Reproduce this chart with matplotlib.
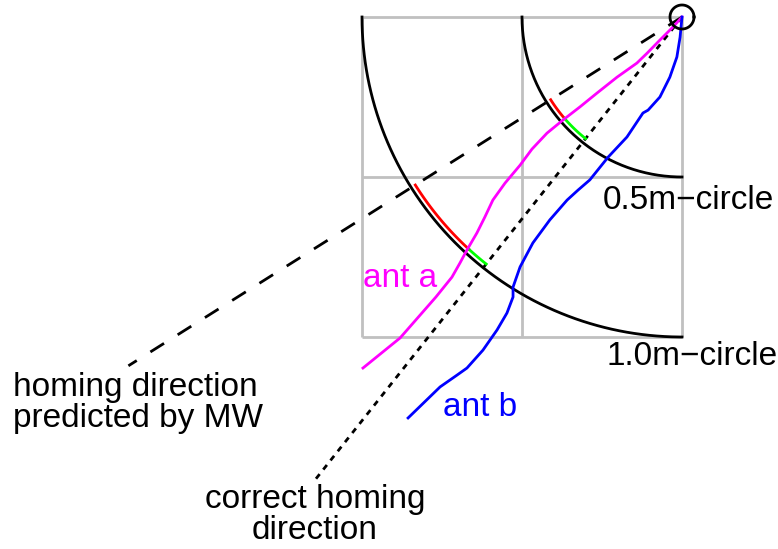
import matplotlib.pyplot as plt
import numpy as np

plt.rcParams['font.family'] = ['Liberation Sans', 'DejaVu Sans']

# positions in metres, nest at (0, 0)
ant_a_x = [-0.997, -0.881, -0.769, -0.719, -0.694, -0.672, -0.641, -0.616, -0.591, -0.553, -0.506,
           -0.469, -0.422, -0.372, -0.319, -0.266, -0.203, -0.141, -0.109, -0.069, -0.028, 0.0]
ant_a_y = [-1.097, -1.003, -0.875, -0.813, -0.769, -0.728, -0.675, -0.625, -0.572, -0.519, -0.463,
           -0.413, -0.363, -0.322, -0.281, -0.238, -0.188, -0.144, -0.113, -0.072, -0.031, 0.0]

ant_b_x = [-0.856, -0.756, -0.703, -0.672, -0.622, -0.578, -0.547, -0.528, -0.528, -0.506, -0.466, -0.413,
           -0.359, -0.325, -0.288, -0.231, -0.172, -0.122, -0.106, -0.069, -0.038, -0.016, -0.006, 0.0]
ant_b_y = [-1.253, -1.156, -1.119, -1.097, -1.041, -0.978, -0.925, -0.875, -0.844, -0.781, -0.706, -0.634,
           -0.572, -0.541, -0.509, -0.438, -0.375, -0.300, -0.291, -0.250, -0.188, -0.125, -0.063, 0.0]

# end points of the two homing direction lines
mw_dir_end = (-1.73, -1.09)
correct_dir_end = (-1.147, -1.447)

circle_radii = [0.5, 1.0]
circle_labels = ["0.5m\u2212circle", "1.0m\u2212circle"]
grid_ticks = [-1.0, -0.5, 0.0]

fig = plt.figure(figsize=(7.78, 5.49), dpi=100)
ax = fig.add_axes([0, 0, 1, 1])
ax.set_xlim(-682 / 320, 96 / 320)
ax.set_ylim(-532 / 320, 17 / 320)
ax.set_aspect('equal')
ax.axis('off')

grey = '#c0c0c0'
lw = 2.0
for t in grid_ticks:
    ax.plot([t, t], [-1, 0], color=grey, lw=lw, zorder=1, solid_capstyle='butt')
    ax.plot([-1, 0], [t, t], color=grey, lw=lw, zorder=1, solid_capstyle='butt')


def crossing_angle(xs, ys, r):
    xs = np.asarray(xs)
    ys = np.asarray(ys)
    rr = np.hypot(xs, ys)
    for i in range(len(rr) - 1):
        if rr[i] >= r > rr[i + 1]:
            f = (rr[i] - r) / (rr[i] - rr[i + 1])
            px = xs[i] + f * (xs[i + 1] - xs[i])
            py = ys[i] + f * (ys[i + 1] - ys[i])
            return np.arctan2(py, px) % (2 * np.pi)
    return None


ang_mw = np.arctan2(mw_dir_end[1], mw_dir_end[0]) % (2 * np.pi)
ang_ok = np.arctan2(correct_dir_end[1], correct_dir_end[0]) % (2 * np.pi)

for r in circle_radii:
    th = np.linspace(np.pi, 1.5 * np.pi, 200)
    ax.plot(r * np.cos(th), r * np.sin(th), color='black', lw=lw, zorder=3)
    ang_a = crossing_angle(ant_a_x, ant_a_y, r)
    ri = r - 0.015
    th = np.linspace(ang_mw, ang_a, 50)
    ax.plot(ri * np.cos(th), ri * np.sin(th), color='#ff0000', lw=lw, zorder=3)
    th = np.linspace(ang_a, ang_ok, 50)
    ax.plot(ri * np.cos(th), ri * np.sin(th), color='#00ff00', lw=lw, zorder=3)

ax.plot([0, mw_dir_end[0]], [0, mw_dir_end[1]], color='black', lw=lw,
        dashes=(5.8, 5.8), zorder=2)
ax.plot([0, correct_dir_end[0]], [0, correct_dir_end[1]], color='black', lw=lw,
        dashes=(2.1, 2.1), zorder=2)

ax.plot(ant_a_x, ant_a_y, color='#ff00ff', lw=lw, zorder=4, solid_joinstyle='round')
ax.plot(ant_b_x, ant_b_y, color='#0000ff', lw=lw, zorder=4, solid_joinstyle='round')

th = np.linspace(0, 2 * np.pi, 100)
ax.plot(0.0375 * np.cos(th), 0.0375 * np.sin(th), color='black', lw=lw, zorder=5)

fs = 24
ax.text(-0.247, -0.572, circle_labels[0], fontsize=fs, ha='left', va='center')
ax.text(-0.2375, -1.0625, circle_labels[1], fontsize=fs, ha='left', va='center')
ax.text(-0.997, -0.816, "ant a", fontsize=fs, color='#ff00ff', ha='left', va='center')
ax.text(-0.747, -1.219, "ant b", fontsize=fs, color='#0000ff', ha='left', va='center')
ax.text(-2.09, -1.206, "homing direction\npredicted by MW", fontsize=fs,
        ha='left', va='center', linespacing=0.98)
ax.text(-1.147, -1.556, "correct homing\ndirection", fontsize=fs,
        ha='center', va='center', multialignment='center', linespacing=0.98)

fig.savefig('out.png', dpi=100)
